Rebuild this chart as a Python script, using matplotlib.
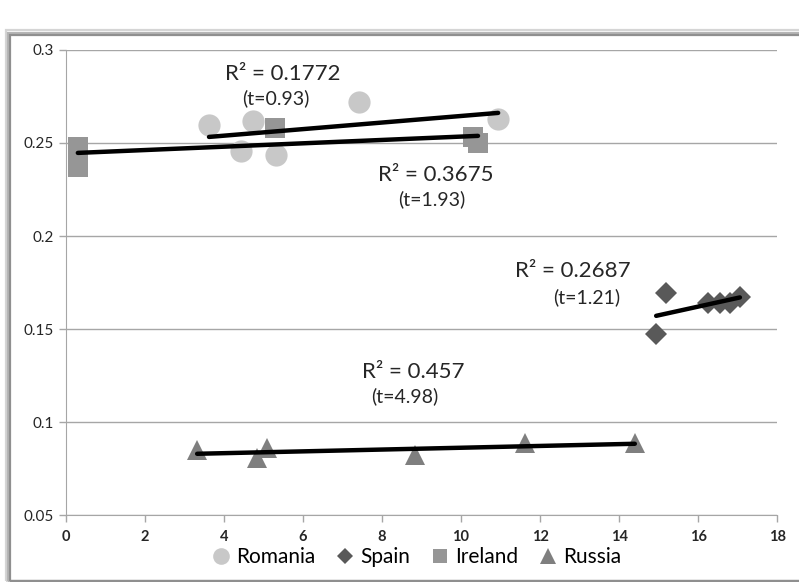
import numpy as np
import matplotlib
matplotlib.use("Agg")
import matplotlib.pyplot as plt
from matplotlib.patches import Rectangle

# values
romania_x = [3.62, 4.43, 4.73, 5.32, 7.42, 10.94]
romania_y = [0.2597, 0.2457, 0.2618, 0.2435, 0.2720, 0.2629]
spain_x = [14.94, 15.19, 16.25, 16.56, 16.80, 17.06]
spain_y = [0.1473, 0.1694, 0.1640, 0.1640, 0.1640, 0.1672]
ireland_x = [0.30, 0.30, 5.30, 10.30, 10.43]
ireland_y = [0.2478, 0.2371, 0.2580, 0.2532, 0.2500]
russia_x = [3.32, 4.84, 5.09, 8.84, 11.62, 14.40]
russia_y = [0.0849, 0.0806, 0.0860, 0.0823, 0.0887, 0.0887]

notes = [
    (5.49, 0.2871, "R\u00b2 = 0.1772", 16), (5.32, 0.2742, "(t=0.93)", 14),
    (9.37, 0.2328, "R\u00b2 = 0.3675", 16), (9.27, 0.2199, "(t=1.93)", 14),
    (12.84, 0.1812, "R\u00b2 = 0.2687", 16), (13.19, 0.1672, "(t=1.21)", 14),
    (8.78, 0.1269, "R\u00b2 = 0.457", 16), (8.58, 0.1140, "(t=4.98)", 14),
]

series = [
    ("Romania", romania_x, romania_y, "o", "#c8c8c8", 16),
    ("Spain", spain_x, spain_y, "D", "#595959", 11),
    ("Ireland", ireland_x, ireland_y, "s", "#969696", 14),
    ("Russia", russia_x, russia_y, "^", "#7f7f7f", 15),
]

fig = plt.figure(figsize=(7.99, 5.82), dpi=100)
ax = fig.add_axes([0.0826, 0.1151, 0.8899, 0.7990])

# chart frame with a soft shadow, like the pasted excel chart
for i, c in enumerate(["#d5d5d5", "#b5b5b5", "#8f8f8f"]):
    fig.patches.append(Rectangle((0.008 + i * 0.002, 0.002), 0.995, 0.946 - i * 0.004,
                                 transform=fig.transFigure, fill=False,
                                 edgecolor=c, linewidth=1.6))

handles = []
for name, xs, ys, mk, col, ms in series:
    h, = ax.plot(xs, ys, linestyle="none", marker=mk, color=col,
                 markersize=ms, markeredgewidth=0, label=name, zorder=3)
    handles.append(h)
    k, b = np.polyfit(xs, ys, 1)
    xx = np.array([min(xs), max(xs)])
    ax.plot(xx, k * xx + b, color="black", linewidth=3.2,
            solid_capstyle="round", zorder=4)

for x, y, s, fs in notes:
    ax.text(x, y, s, ha="center", va="center", fontsize=fs,
            family="Lato", color="#262626", zorder=5)

ax.set_xlim(0, 18)
ax.set_ylim(0.05, 0.3)
ax.set_xticks(np.arange(0, 19, 2))
ax.set_yticks([0.05, 0.1, 0.15, 0.2, 0.25, 0.3])
ax.set_yticklabels(["0.05", "0.1", "0.15", "0.2", "0.25", "0.3"])
ax.grid(True, axis="y", color="#a6a6a6", linewidth=1.0)
ax.set_axisbelow(True)
for side in ["top", "right"]:
    ax.spines[side].set_visible(False)
for side in ["left", "bottom"]:
    ax.spines[side].set_color("#a6a6a6")
ax.tick_params(axis="both", colors="#a6a6a6", length=5, width=1.0,
               labelcolor="#262626", labelsize=10)
ax.tick_params(axis="x", pad=6)
for lab in ax.get_yticklabels():
    lab.set_family("Lato")
    lab.set_fontsize(11)
for lab in ax.get_xticklabels():
    lab.set_fontweight("bold")
    lab.set_family("Lato")
    lab.set_fontsize(10.5)

fig.legend(handles=handles, loc="center", bbox_to_anchor=(0.518, 0.043),
           ncol=4, frameon=False, handletextpad=0.05, columnspacing=0.7,
           handlelength=1.4, markerscale=0.75,
           prop={"family": "Lato", "size": 15})

fig.savefig("out.png", dpi=100)
